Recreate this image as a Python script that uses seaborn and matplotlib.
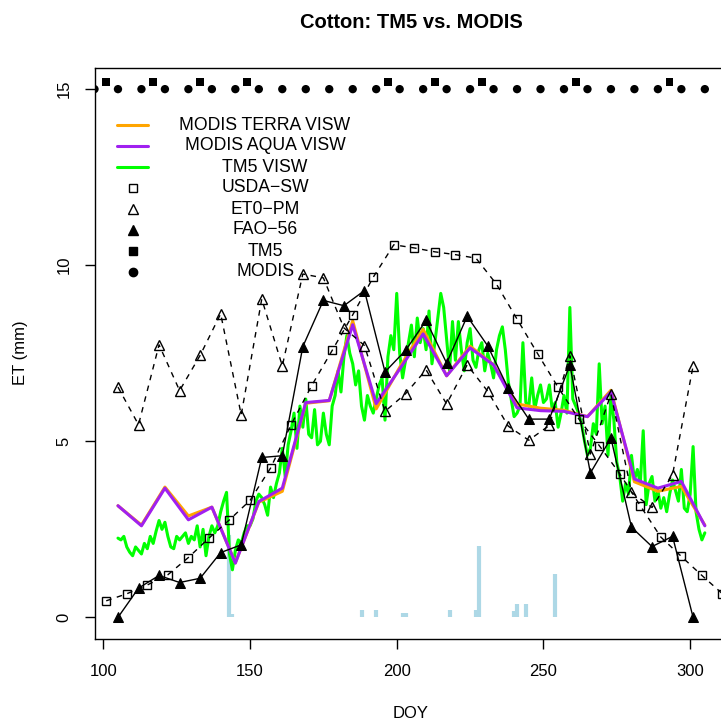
import matplotlib
matplotlib.use("Agg")
import matplotlib.pyplot as plt
import seaborn as sns

# dates (DOY)
modis_doy = list(range(105, 306, 8))
tm5_doy = list(range(105, 306))
usda_doy = list(range(101, 312, 7))
wx_doy = list(range(105, 302, 7))

# MODIS VISW ET (mm)
terra_et = [3.17, 2.62, 3.70, 2.88, 3.13, 1.55, 3.27, 3.58, 6.08, 6.15, 8.42, 5.92, 7.10,
            8.18, 6.86, 7.70, 7.17, 6.06, 5.94, 5.88, 5.70, 6.45, 3.85, 3.58, 3.72, 2.62]
aqua_et = [3.17, 2.60, 3.67, 2.77, 3.13, 1.54, 3.29, 3.67, 6.10, 6.16, 8.31, 6.07, 7.05,
           8.05, 6.86, 7.65, 7.17, 5.95, 5.87, 5.85, 5.70, 6.40, 3.93, 3.67, 3.86, 2.60]

# TM5 VISW daily ET, DOY 105-305
tm5_et = [2.25, 2.2, 2.3, 2.0, 1.85, 1.75, 2.0, 1.9, 1.8, 2.1,
          1.95, 2.3, 2.1, 2.45, 2.75, 2.5, 2.7, 2.3, 2.0, 1.95,
          2.3, 2.2, 2.3, 2.4, 2.1, 2.3, 2.2, 2.6, 2.0, 2.5,
          1.75, 2.3, 2.6, 2.4, 2.6, 3.0, 3.3, 3.55, 1.8, 1.35,
          1.9, 2.2, 2.1, 2.4, 2.6, 2.6, 2.8, 3.3, 3.5, 3.4,
          3.2, 2.9, 3.7, 3.4, 3.8, 4.1, 4.8, 4.0, 4.9, 5.3,
          5.8, 4.8, 6.0, 5.4, 6.2, 5.2, 5.1, 5.9, 4.9, 5.0,
          5.8, 5.2, 4.9, 6.0, 6.3, 7.0, 6.4, 7.4, 8.0, 7.5,
          7.2, 6.6, 7.0, 6.0, 5.6, 6.3, 6.0, 5.8, 6.2, 6.6,
          6.8, 5.6, 7.4, 8.0, 7.6, 9.2, 7.5, 6.8, 7.3, 7.8,
          8.3, 7.4, 8.5, 7.8, 8.2, 7.6, 8.7, 7.2, 7.8, 8.5,
          9.2, 8.8, 7.9, 7.0, 8.4, 7.3, 8.4, 7.6, 7.0, 7.8,
          8.2, 7.3, 7.1, 7.6, 7.8, 7.0, 7.5, 7.2, 6.8, 7.6,
          8.0, 8.25, 7.6, 6.7, 6.2, 5.7, 5.8, 6.0, 7.8, 6.1,
          6.0, 6.8, 5.9, 6.3, 6.6, 6.1, 6.2, 6.6, 5.9, 6.1,
          5.4, 5.8, 6.3, 5.8, 8.8, 6.2, 6.0, 5.8, 5.5, 5.0,
          4.6, 4.8, 5.5, 5.2, 7.2, 5.5, 6.0, 4.6, 6.3, 5.6,
          4.4, 4.0, 3.3, 3.8, 3.5, 4.6, 3.9, 4.2, 3.8, 5.3,
          3.2, 3.8, 4.0, 3.3, 3.6, 3.1, 3.4, 3.0, 3.5, 3.9,
          3.6, 3.3, 4.2, 3.1, 3.0, 3.5, 4.85, 3.0, 2.5, 2.2, 2.4]

usda_et = [0.47, 0.67, 0.92, 1.21, 1.70, 2.25, 2.77, 3.32, 4.24, 5.47, 6.58, 7.58, 8.59,
           9.66, 10.58, 10.49, 10.38, 10.30, 10.20, 9.46, 8.47, 7.49, 6.53, 5.64, 4.88,
           4.08, 3.17, 2.28, 1.73, 1.19, 0.67]
et0_et = [6.54, 5.47, 7.74, 6.44, 7.44, 8.62, 5.75, 9.04, 7.14, 9.75, 9.64, 8.22, 7.72,
          5.85, 6.35, 7.03, 6.06, 7.17, 6.42, 5.43, 5.03, 5.45, 7.43, 4.64, 6.34, 3.55,
          3.12, 4.05, 7.14]
fao_et = [0.0, 0.83, 1.19, 0.99, 1.11, 1.84, 2.06, 4.54, 4.59, 7.69, 9.00, 8.85, 9.28,
          6.97, 7.58, 8.43, 7.22, 8.55, 7.71, 6.50, 5.63, 5.63, 7.17, 4.10, 5.09, 2.56,
          2.01, 2.30, 0.0]

# rain / irrigation bars
rain_doy = [143, 144, 188, 193, 202, 203, 218, 227, 228, 240, 241, 244, 254]
rain_mm = [2.34, 0.1, 0.21, 0.21, 0.12, 0.12, 0.22, 0.2, 2.02, 0.18, 0.38, 0.38, 1.24]

# image acquisition dates
modis_dates = list(range(97, 306, 8))
tm5_dates = [101, 117, 133, 149, 197, 213, 229, 261, 293]

sns.set_style("ticks")
plt.rcParams['font.family'] = ['Liberation Sans', 'DejaVu Sans']
plt.rcParams['text.color'] = 'black'
plt.rcParams['xtick.color'] = 'black'
plt.rcParams['ytick.color'] = 'black'
plt.rcParams['axes.edgecolor'] = 'black'

W, H = 721, 720
fig = plt.figure(figsize=(W / 100, H / 100), dpi=100)
ax = fig.add_axes([94.5 / W, 1 - 638.5 / H, (760 - 94.5) / W, 570.5 / H])

ax.vlines(rain_doy, 0, rain_mm, color='lightblue', lw=3, zorder=2)
sns.lineplot(x=tm5_doy, y=tm5_et, color='#00FF00', lw=2.2, ax=ax, zorder=3)
sns.lineplot(x=modis_doy, y=terra_et, color='orange', lw=2.2, ax=ax, zorder=4)
sns.lineplot(x=modis_doy, y=aqua_et, color='#A020F0', lw=2.2, ax=ax, zorder=5)
sns.lineplot(x=usda_doy, y=usda_et, color='black', lw=1, ls=(0, (4, 4)), marker='s',
             ms=6, mfc='none', mec='black', mew=1, ax=ax, zorder=6)
sns.lineplot(x=wx_doy, y=et0_et, color='black', lw=1, ls=(0, (4, 4)), marker='^',
             ms=7, mfc='none', mec='black', mew=1, ax=ax, zorder=6)
sns.lineplot(x=wx_doy, y=fao_et, color='black', lw=1, marker='^', ms=7,
             mfc='black', mec='black', ax=ax, zorder=7)
sns.scatterplot(x=modis_dates, y=[15] * len(modis_dates), color='black', marker='o',
                s=36, edgecolor='none', ax=ax, zorder=7)
sns.scatterplot(x=tm5_dates, y=[15.2] * len(tm5_dates), color='black', marker='s',
                s=30, edgecolor='none', ax=ax, zorder=7)

ax.set_xlim(97.0, 323.8)
ax.set_ylim(-0.6, 15.6)
ax.set_xticks([100, 150, 200, 250, 300])
ax.set_yticks([0, 5, 10, 15])
ax.tick_params(direction='out', length=7.5, width=1, labelsize=12, color='black',
               labelcolor='black')
ax.tick_params(axis='x', pad=11)
ax.tick_params(axis='y', pad=9)
plt.setp(ax.get_yticklabels(), rotation=90, va='center')
for s in ax.spines.values():
    s.set_color('black')
    s.set_linewidth(1)
ax.set_xlabel('')
ax.set_ylabel('')

fig.text(411 / W, 1 - 22 / H, 'Cotton: TM5 vs. MODIS', ha='center', va='center',
         fontsize=14.5, fontweight='bold', color='black')
fig.text(411 / W, 1 - 713 / H, 'DOY', ha='center', va='center', fontsize=12, color='black')
fig.text(20 / W, 1 - 353 / H, 'ET (mm)', ha='center', va='center', fontsize=12,
         rotation=90, color='black')

# legend, drawn by hand (R style: no box, centred text)
leg_labels = ['MODIS TERRA VISW', 'MODIS AQUA VISW', 'TM5 VISW', 'USDA\u2212SW',
              'ET0\u2212PM', 'FAO\u221256', 'TM5', 'MODIS']
leg_rows = [125, 146, 167, 188, 209, 230, 251, 272]
tf = fig.transFigure
for lab, row, col in zip(leg_labels[:3], leg_rows[:3], ['orange', '#A020F0', '#00FF00']):
    fig.add_artist(plt.Line2D([117 / W, 148 / W], [1 - row / H] * 2, color=col, lw=2.2,
                              transform=tf))
syms = [('s', 'none', 6), ('^', 'none', 7), ('^', 'black', 7), ('s', 'black', 5.5), ('o', 'black', 6)]
for (m, fc, ms), row in zip(syms, leg_rows[3:]):
    fig.add_artist(plt.Line2D([133 / W], [1 - row / H], marker=m, mfc=fc, mec='black',
                              ms=ms, mew=1, ls='none', transform=tf))
for lab, row in zip(leg_labels, leg_rows):
    fig.text(265 / W, 1 - row / H, lab, ha='center', va='center', fontsize=12.7, color='black')

fig.savefig('out.png', dpi=100)
